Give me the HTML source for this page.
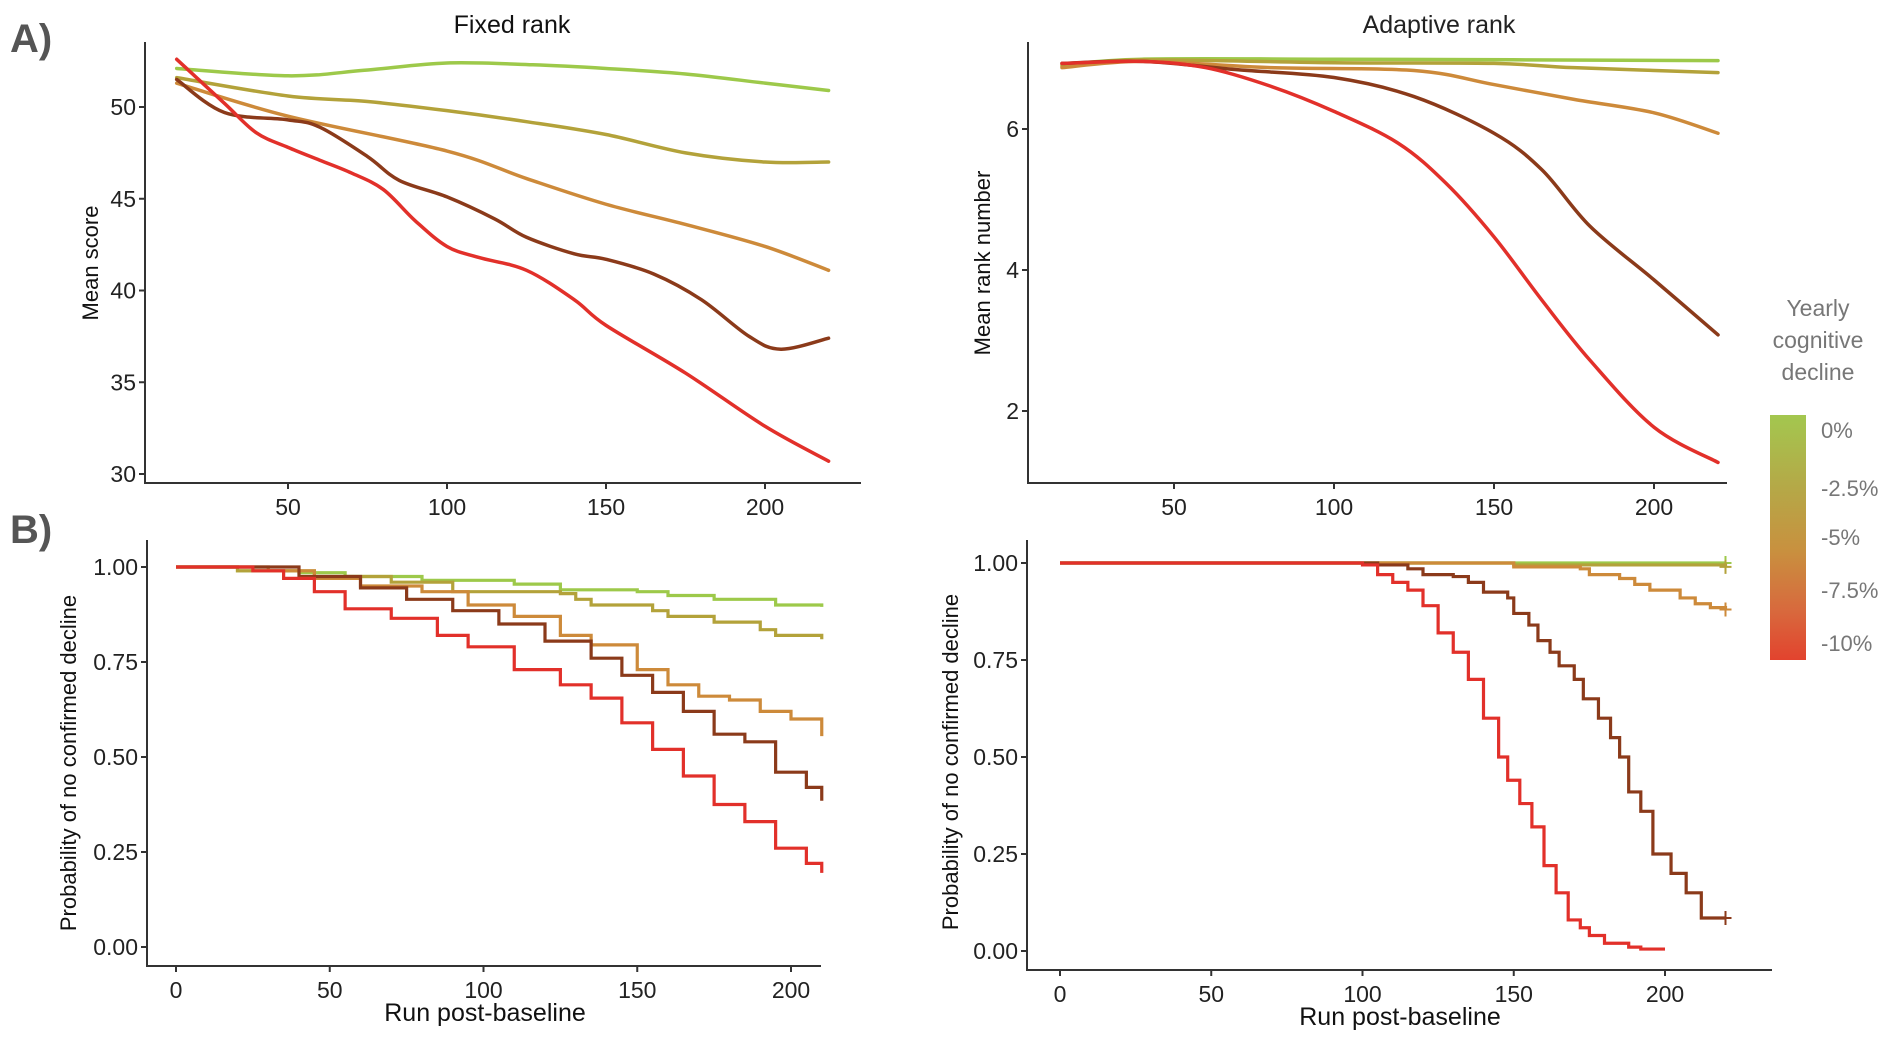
<!DOCTYPE html>
<html><head><meta charset="utf-8">
<style>
html,body{margin:0;padding:0;background:#fff;}
svg{display:block;}
text{font-family:"Liberation Sans Narrow","Liberation Sans",sans-serif;}
.ax{stroke:#333;stroke-width:2;}
.tl{font-size:23px;fill:#222;}
.yl{font-family:"Liberation Sans",sans-serif;font-size:22px;fill:#111;}
</style></head>
<body>
<svg id="fig" width="1891" height="1040" viewBox="0 0 1891 1040">
<defs>
<linearGradient id="lg" x1="0" y1="0" x2="0" y2="1">
<stop offset="0" stop-color="#a3c74f"/><stop offset="0.3" stop-color="#b5a847"/>
<stop offset="0.55" stop-color="#c8913f"/><stop offset="0.8" stop-color="#d8693d"/><stop offset="1" stop-color="#e2432e"/>
</linearGradient>
</defs>
<text x="10" y="52" style="font-family:'Liberation Sans',sans-serif;font-weight:bold;font-size:40px;fill:#555">A)</text>
<text x="10" y="543" style="font-family:'Liberation Sans',sans-serif;font-weight:bold;font-size:40px;fill:#555">B)</text>
<text x="512" y="33" text-anchor="middle" style="font-size:25px;fill:#111">Fixed rank</text>
<text x="1439" y="33" text-anchor="middle" style="font-size:25px;fill:#222">Adaptive rank</text>
<g>
<text x="1818" y="316" text-anchor="middle" style="font-size:23px;fill:#777">Yearly</text>
<text x="1818" y="348" text-anchor="middle" style="font-size:23px;fill:#777">cognitive</text>
<text x="1818" y="380" text-anchor="middle" style="font-size:23px;fill:#777">decline</text>
<rect x="1770" y="415" width="36" height="245" fill="url(#lg)"/>
<text x="1821" y="438" style="font-size:22px;fill:#777">0%</text>
<text x="1821" y="496" style="font-size:22px;fill:#777">-2.5%</text>
<text x="1821" y="545" style="font-size:22px;fill:#777">-5%</text>
<text x="1821" y="598" style="font-size:22px;fill:#777">-7.5%</text>
<text x="1821" y="651" style="font-size:22px;fill:#777">-10%</text>
</g>
</svg>
<script>
// ---------- data ----------
const seriesNames = ['0%','-2.5%','-5%','-7.5%','-10%'];
const seriesColors = ['#9dc94a','#b3a23a','#cd8a3a','#8b3a1a','#e2302a'];

// Panel A left: Fixed rank, mean score
const aL_x = [[15,50,74,100,127,150,175,200,220],[15,50,75,100,125,150,175,200,220],[15,50,100,125,150,175,200,220],[15,30,50,60,75,85,100,115,125,140,150,165,180,195,205,220],[15,30,40,50,60,70,80,90,100,110,125,140,150,175,200,220]];
const aL_y = [[52.1,51.7,52.0,52.4,52.3,52.1,51.8,51.3,50.9],[51.6,50.6,50.3,49.8,49.2,48.5,47.5,47.0,47.0],[51.3,49.5,47.6,46.1,44.7,43.6,42.4,41.1],[51.5,49.7,49.3,48.9,47.3,46.0,45.1,43.9,42.9,42.0,41.7,40.9,39.5,37.5,36.8,37.4],[52.6,50.2,48.6,47.8,47.1,46.4,45.5,43.8,42.4,41.8,41.1,39.5,38.1,35.5,32.6,30.7]];
const aL_xticks = [50,100,150,200];
const aL_yticks = [30,35,40,45,50];

// Panel A right: Adaptive rank, mean rank number
const aR_x = [[15,40,100,220],[15,40,100,150,175,220],[15,40,80,125,150,175,200,220],[15,40,70,100,125,150,165,180,200,220],[15,40,60,80,100,120,135,150,165,180,200,220]];
const aR_y = [[6.91,6.99,6.99,6.97],[6.89,6.98,6.94,6.93,6.87,6.80],[6.87,6.96,6.87,6.83,6.63,6.42,6.23,5.94],[6.93,6.96,6.84,6.73,6.46,5.94,5.42,4.62,3.86,3.08],[6.93,6.96,6.87,6.61,6.25,5.80,5.23,4.47,3.57,2.72,1.77,1.27]];
const aR_xticks = [50,100,150,200];
const aR_yticks = [2,4,6];

// Panel B left: Fixed rank survival
const bL_x = [[0,20,40,55,80,110,125,150,160,175,195,210],[0,20,45,70,90,125,130,135,155,160,175,190,195,210],[0,30,45,60,80,95,110,125,135,150,160,170,180,190,200,210],[0,30,40,60,75,90,105,120,135,145,155,165,175,185,195,205,210],[0,25,35,45,55,70,85,95,110,125,135,145,155,165,175,185,195,205,210]];
const bL_y = [[1,0.99,0.985,0.975,0.965,0.955,0.94,0.935,0.925,0.915,0.9,0.895],[1,0.99,0.975,0.96,0.935,0.93,0.915,0.9,0.885,0.87,0.855,0.835,0.82,0.81],[1,0.99,0.97,0.95,0.935,0.9,0.87,0.82,0.795,0.73,0.69,0.66,0.65,0.62,0.6,0.555],[1,1,0.975,0.945,0.915,0.885,0.85,0.805,0.76,0.715,0.67,0.62,0.56,0.54,0.46,0.42,0.385],[1,0.99,0.97,0.935,0.89,0.865,0.82,0.79,0.73,0.69,0.655,0.59,0.52,0.45,0.375,0.33,0.26,0.22,0.195]];
const bL_xticks = [0,50,100,150,200];
const bL_yticks = [0,0.25,0.5,0.75,1];

// Panel B right: Adaptive rank survival
const bR_x = [[0,220],[0,150,220],[0,150,172,175,185,190,195,205,210,215,220],[0,105,115,120,130,135,140,148,150,155,158,162,165,170,173,178,182,185,188,192,196,202,207,212,220],[0,100,105,110,115,120,125,130,135,140,145,148,152,156,160,164,168,172,175,180,188,192,200]];
const bR_y = [[1,1],[1,0.995,0.99],[1,0.99,0.985,0.97,0.96,0.945,0.93,0.91,0.895,0.885,0.88],[1,0.995,0.985,0.97,0.965,0.95,0.925,0.91,0.87,0.84,0.8,0.77,0.735,0.7,0.65,0.6,0.55,0.5,0.41,0.36,0.25,0.2,0.15,0.085,0.085],[1,0.995,0.97,0.95,0.93,0.89,0.82,0.77,0.7,0.6,0.5,0.44,0.38,0.32,0.22,0.15,0.08,0.06,0.04,0.02,0.01,0.005,0.005]];
const bR_censored = [true,true,true,true,false];
const bR_xticks = [0,50,100,150,200];
const bR_yticks = [0,0.25,0.5,0.75,1];

// ---------- drawing ----------
const svg = document.getElementById('fig');
const NS = 'http://www.w3.org/2000/svg';
function mk(tag, attrs){const e=document.createElementNS(NS,tag);for(const k in attrs)e.setAttribute(k,attrs[k]);svg.appendChild(e);return e;}
function lin(d0,d1,r0,r1){return v=>r0+(v-d0)*(r1-r0)/(d1-d0);}

function axes(p){
  const l=mk('line',{x1:p.ax,y1:p.top,x2:p.ax,y2:p.ay,class:'ax'});
  
  
  const b=mk('line',{x1:p.ax-1,y1:p.ay,x2:p.right,y2:p.ay,class:'ax'});
  
  
  p.xt.forEach(v=>{
    const x=p.sx(v);
    mk('line',{x1:x,y1:p.ay,x2:x,y2:p.ay+6,class:'ax'});
    const t=mk('text',{x:x,y:p.ay+32,'text-anchor':'middle',class:'tl'});
    t.textContent=v;
    
    
  });
  p.yt.forEach(v=>{
    const y=p.sy(v);
    mk('line',{x1:p.ax-6,y1:y,x2:p.ax,y2:y,class:'ax'});
    const t=mk('text',{x:p.ax-9,y:y+8,'text-anchor':'end',class:'tl'});
    t.textContent=p.fmt?p.fmt(v):v;
    
    
  });
  const yl=mk('text',{x:0,y:0,'text-anchor':'middle',class:'yl',transform:`translate(${p.ylx},${p.yly}) rotate(-90)`});
  yl.textContent=p.ylab;
  
  
  if(p.xlab){
    const xl=mk('text',{x:p.xlx,y:p.xly,'text-anchor':'middle',style:'font-size:25px;fill:#111'});
    xl.textContent=p.xlab;
    
    
  }
}
function smoothPath(pts){
  let d=`M${pts[0][0]},${pts[0][1]}`;
  for(let i=0;i<pts.length-1;i++){
    const p0=pts[Math.max(0,i-1)],p1=pts[i],p2=pts[i+1],p3=pts[Math.min(pts.length-1,i+2)];
    const c1=[p1[0]+(p2[0]-p0[0])/6,p1[1]+(p2[1]-p0[1])/6];
    const c2=[p2[0]-(p3[0]-p1[0])/6,p2[1]-(p3[1]-p1[1])/6];
    d+=` C${c1[0]},${c1[1]} ${c2[0]},${c2[1]} ${p2[0]},${p2[1]}`;
  }
  return d;
}
function stepPath(pts){
  let d=`M${pts[0][0]},${pts[0][1]}`;
  for(let i=1;i<pts.length;i++){d+=` H${pts[i][0]} V${pts[i][1]}`;}
  return d;
}

// Panel A left
const pAL={id:'fixed-score',ax:145,ay:483,top:42,right:861,sx:lin(50,200,288,765),sy:lin(30,50,474,107),xt:aL_xticks,yt:aL_yticks,ylab:'Mean score',ylx:98,yly:263};
axes(pAL);
aL_x.forEach((xs,s)=>{
  const p=mk('path',{d:smoothPath(xs.map((x,i)=>[pAL.sx(x),pAL.sy(aL_y[s][i])])),fill:'none',stroke:seriesColors[s],'stroke-width':3.5,'stroke-linecap':'round'});
  
  
});

// Panel A right
const pAR={id:'adaptive-rank',ax:1028,ay:483,top:42,right:1727,sx:lin(50,200,1174,1654),sy:lin(2,6,411,129),xt:aR_xticks,yt:aR_yticks,ylab:'Mean rank number',ylx:990,yly:263};
axes(pAR);
aR_x.forEach((xs,s)=>{
  const p=mk('path',{d:smoothPath(xs.map((x,i)=>[pAR.sx(x),pAR.sy(aR_y[s][i])])),fill:'none',stroke:seriesColors[s],'stroke-width':3.5,'stroke-linecap':'round'});
  
  
});

// Panel B left
const fmt2=v=>v.toFixed(2);
const pBL={id:'fixed-survival',ax:147,ay:966,top:540,right:821,sx:lin(0,200,176,791),sy:lin(0,1,947,567),xt:bL_xticks,yt:bL_yticks,fmt:fmt2,ylab:'Probability of no confirmed decline',ylx:76,yly:763,xlab:'Run post-baseline',xlx:485,xly:1021};
axes(pBL);
bL_x.forEach((xs,s)=>{
  const p=mk('path',{d:stepPath(xs.map((x,i)=>[pBL.sx(x),pBL.sy(bL_y[s][i])])),fill:'none',stroke:seriesColors[s],'stroke-width':3.2});
  
  
});

// Panel B right
const pBR={id:'adaptive-survival',ax:1027,ay:970,top:540,right:1772,sx:lin(0,200,1060,1665),sy:lin(0,1,951,563),xt:bR_xticks,yt:bR_yticks,fmt:fmt2,ylab:'Probability of no confirmed decline',ylx:958,yly:762,xlab:'Run post-baseline',xlx:1400,xly:1025};
axes(pBR);
bR_x.forEach((xs,s)=>{
  const pts=xs.map((x,i)=>[pBR.sx(x),pBR.sy(bR_y[s][i])]);
  const p=mk('path',{d:stepPath(pts),fill:'none',stroke:seriesColors[s],'stroke-width':3.2});
  
  
  if(bR_censored[s]){
    const e=pts[pts.length-1];
    const c=mk('path',{d:`M${e[0]-6},${e[1]} H${e[0]+6} M${e[0]},${e[1]-7} V${e[1]+7}`,stroke:seriesColors[s],'stroke-width':2,fill:'none'});
    
    
  }
});
</script>
</body></html>
